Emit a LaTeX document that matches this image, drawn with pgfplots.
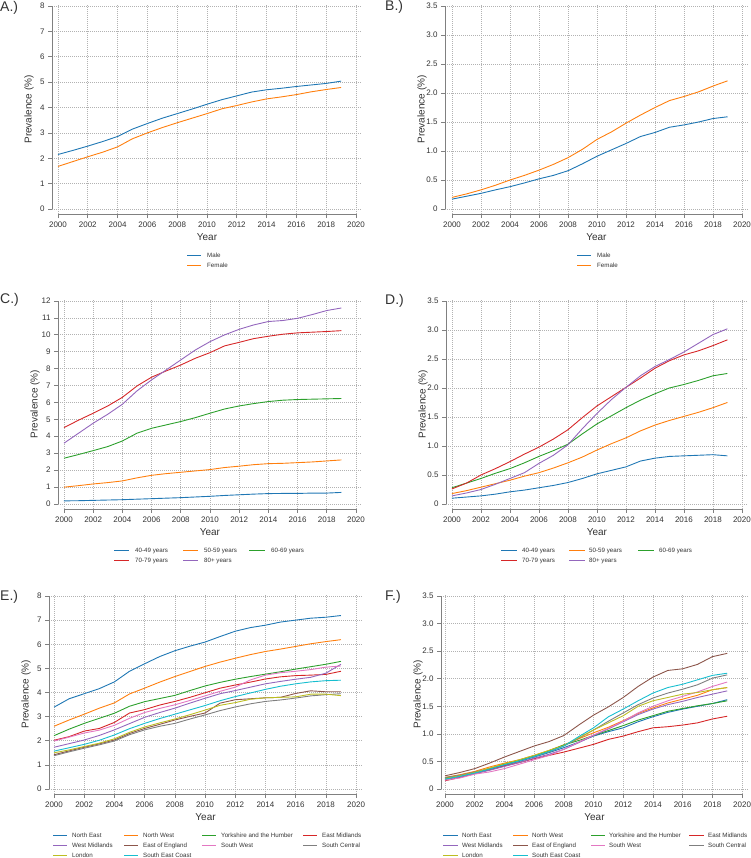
\documentclass[border=0pt]{standalone}
\usepackage{pgfplots}
\pgfplotsset{compat=1.18}
\usepackage{pgfplotstable}
\usepackage{fontspec}
\setmainfont{Liberation Sans}[Color=333333]
\definecolor{c1}{HTML}{1F77B4}
\definecolor{c2}{HTML}{FF7F0E}
\definecolor{c3}{HTML}{2CA02C}
\definecolor{c4}{HTML}{D62728}
\definecolor{c5}{HTML}{9467BD}
\definecolor{c6}{HTML}{8C564B}
\definecolor{c7}{HTML}{E377C2}
\definecolor{c8}{HTML}{7F7F7F}
\definecolor{c9}{HTML}{BCBD22}
\definecolor{c10}{HTML}{17BECF}

\pgfplotstableread{
year male female
2000 2.15 1.68
2001 2.31 1.87
2002 2.48 2.06
2003 2.66 2.24
2004 2.86 2.45
2005 3.15 2.77
2006 3.37 3.00
2007 3.58 3.21
2008 3.76 3.40
2009 3.94 3.58
2010 4.13 3.76
2011 4.31 3.95
2012 4.46 4.08
2013 4.61 4.22
2014 4.70 4.34
2015 4.76 4.42
2016 4.83 4.51
2017 4.89 4.62
2018 4.95 4.71
2019 5.04 4.79
}\tabA

\pgfplotstableread{
year male female
2000 0.17 0.20
2001 0.22 0.26
2002 0.27 0.33
2003 0.33 0.41
2004 0.385 0.50
2005 0.45 0.58
2006 0.52 0.67
2007 0.58 0.77
2008 0.66 0.885
2009 0.78 1.03
2010 0.91 1.20
2011 1.02 1.33
2012 1.13 1.48
2013 1.25 1.62
2014 1.32 1.75
2015 1.41 1.87
2016 1.45 1.94
2017 1.50 2.02
2018 1.56 2.12
2019 1.59 2.21
}\tabB

\pgfplotstableread{
year a40 a50 a60 a70 a80
2000 0.18 0.99 2.70 4.51 3.59
2001 0.19 1.08 2.92 4.95 4.18
2002 0.21 1.18 3.15 5.36 4.77
2003 0.23 1.26 3.39 5.79 5.30
2004 0.25 1.36 3.72 6.30 5.89
2005 0.28 1.54 4.18 6.97 6.68
2006 0.31 1.69 4.47 7.49 7.33
2007 0.34 1.79 4.67 7.86 7.92
2008 0.37 1.87 4.87 8.21 8.51
2009 0.41 1.95 5.10 8.61 9.10
2010 0.45 2.03 5.36 8.94 9.59
2011 0.50 2.15 5.61 9.34 9.99
2012 0.54 2.23 5.79 9.55 10.32
2013 0.58 2.32 5.93 9.77 10.58
2014 0.61 2.38 6.05 9.91 10.78
2015 0.62 2.40 6.13 10.03 10.84
2016 0.62 2.44 6.17 10.11 10.97
2017 0.64 2.48 6.19 10.15 11.19
2018 0.64 2.54 6.21 10.19 11.43
2019 0.68 2.60 6.23 10.24 11.58
}\tabC

\pgfplotstableread{
year a40 a50 a60 a70 a80
2000 0.10 0.18 0.28 0.26 0.14
2001 0.12 0.23 0.36 0.36 0.19
2002 0.14 0.29 0.44 0.50 0.25
2003 0.17 0.35 0.53 0.61 0.34
2004 0.21 0.41 0.61 0.73 0.44
2005 0.24 0.48 0.71 0.86 0.54
2006 0.28 0.54 0.82 0.98 0.70
2007 0.32 0.62 0.92 1.12 0.84
2008 0.37 0.71 1.03 1.28 1.02
2009 0.44 0.81 1.21 1.49 1.30
2010 0.52 0.93 1.38 1.69 1.56
2011 0.58 1.04 1.52 1.85 1.80
2012 0.64 1.14 1.66 2.01 2.01
2013 0.74 1.26 1.79 2.17 2.21
2014 0.79 1.36 1.90 2.34 2.37
2015 0.82 1.44 2.00 2.47 2.49
2016 0.83 1.51 2.06 2.57 2.62
2017 0.84 1.58 2.13 2.64 2.77
2018 0.85 1.66 2.21 2.73 2.92
2019 0.83 1.75 2.25 2.83 3.02
}\tabD

\pgfplotstableread{
year NE NW YH EM WM EE SW SC LO SE
2000 3.39 2.60 2.21 2.02 1.73 1.42 1.99 1.38 1.50 1.57
2001 3.74 2.86 2.48 2.17 1.88 1.58 2.15 1.54 1.62 1.71
2002 3.95 3.10 2.72 2.40 2.03 1.73 2.32 1.69 1.76 1.85
2003 4.16 3.35 2.93 2.51 2.22 1.87 2.44 1.83 1.90 2.02
2004 4.44 3.57 3.14 2.76 2.45 2.03 2.64 1.99 2.08 2.24
2005 4.88 3.94 3.43 3.15 2.71 2.30 2.93 2.25 2.35 2.50
2006 5.19 4.18 3.62 3.29 2.97 2.51 3.17 2.45 2.57 2.72
2007 5.49 4.43 3.75 3.48 3.17 2.68 3.34 2.60 2.74 2.92
2008 5.73 4.66 3.88 3.63 3.35 2.86 3.49 2.72 2.90 3.10
2009 5.92 4.87 4.08 3.80 3.56 3.01 3.67 2.90 3.08 3.28
2010 6.09 5.08 4.27 3.99 3.76 3.15 3.86 3.07 3.27 3.46
2011 6.32 5.26 4.42 4.18 3.95 3.56 4.05 3.25 3.47 3.66
2012 6.54 5.42 4.55 4.31 4.08 3.70 4.22 3.40 3.58 3.83
2013 6.69 5.57 4.66 4.43 4.22 3.74 4.52 3.53 3.72 3.98
2014 6.79 5.70 4.76 4.56 4.36 3.78 4.72 3.63 3.78 4.13
2015 6.92 5.80 4.86 4.65 4.46 3.80 4.82 3.69 3.80 4.26
2016 7.00 5.91 4.97 4.70 4.55 3.96 4.88 3.77 3.82 4.36
2017 7.08 6.02 5.07 4.72 4.63 4.07 4.95 3.86 3.93 4.44
2018 7.12 6.11 5.17 4.75 4.80 4.03 5.05 3.91 3.93 4.49
2019 7.19 6.19 5.29 4.88 5.17 4.03 5.10 3.95 3.87 4.51
}\tabE

\pgfplotstableread{
year NE NW YH EM WM EE SW SC LO SE
2000 0.19 0.21 0.20 0.15 0.17 0.24 0.16 0.21 0.19 0.18
2001 0.23 0.26 0.24 0.21 0.22 0.30 0.20 0.25 0.24 0.23
2002 0.28 0.32 0.30 0.28 0.28 0.37 0.27 0.31 0.30 0.29
2003 0.35 0.40 0.37 0.35 0.34 0.47 0.31 0.37 0.38 0.36
2004 0.43 0.47 0.45 0.42 0.41 0.58 0.37 0.44 0.46 0.44
2005 0.50 0.53 0.52 0.48 0.48 0.68 0.45 0.51 0.53 0.51
2006 0.58 0.61 0.60 0.55 0.56 0.78 0.53 0.59 0.61 0.59
2007 0.66 0.70 0.69 0.61 0.63 0.86 0.61 0.67 0.70 0.68
2008 0.75 0.80 0.80 0.67 0.72 0.97 0.72 0.78 0.79 0.78
2009 0.85 0.91 0.88 0.74 0.84 1.16 0.85 0.92 0.93 0.95
2010 0.96 1.02 0.97 0.81 0.97 1.34 0.98 1.07 1.07 1.11
2011 1.04 1.12 1.06 0.90 1.09 1.49 1.10 1.23 1.20 1.31
2012 1.11 1.24 1.15 0.96 1.22 1.66 1.23 1.38 1.33 1.45
2013 1.22 1.37 1.25 1.04 1.35 1.86 1.38 1.53 1.50 1.60
2014 1.31 1.47 1.33 1.11 1.45 2.03 1.50 1.65 1.60 1.74
2015 1.39 1.56 1.41 1.13 1.53 2.15 1.60 1.74 1.66 1.84
2016 1.45 1.63 1.46 1.16 1.59 2.18 1.68 1.81 1.72 1.90
2017 1.50 1.70 1.51 1.20 1.66 2.26 1.76 1.89 1.75 1.98
2018 1.55 1.80 1.55 1.27 1.72 2.40 1.86 2.01 1.80 2.06
2019 1.62 1.84 1.60 1.32 1.78 2.46 1.94 2.07 1.84 2.10
}\tabF

\pgfplotsset{
  panel/.style={
    scale only axis, anchor=south west,
    axis lines=left, axis line style={-, draw=black!50, line width=0.7pt},
    tick align=outside, major tick length=4pt,
    tick style={draw=black!50, line width=0.6pt},
    grid=major, major grid style={dash pattern=on 0.6pt off 1.4pt, line width=0.6pt, draw=black!30},
    xtick={2000,2002,...,2020}, xmax=2020.4,
    tick label style={font=\fontsize{8}{9}\selectfont},
    /pgf/number format/assume math mode=true,
    xticklabel style={/pgf/number format/1000 sep={}},
    label style={font=\fontsize{7.8}{9}\selectfont},
    xlabel={Year}, ylabel={Prevalence (\%)},
    every axis x label/.style={at={(axis description cs:0.5,0)}, anchor=center, yshift=-23pt},
    every axis y label/.style={at={(axis description cs:0,0.5)}, anchor=center, xshift=-23pt, rotate=90},
    every axis plot/.append style={line width=0.9pt},
  },
  fracy/.style={ytick={0,0.5,...,3.5}, yticklabels={0,0.5,1.0,1.5,2.0,2.5,3.0,3.5}, ymax=3.52},
}

% legend key line: colour, start x, end x, y (pt)
\newcommand{\lline}[4]{\draw[draw=#1, line width=1pt] (#2pt,#4pt) -- (#3pt,#4pt);}
% legend key text: x, y (pt), text
\newcommand{\ltext}[3]{\node[anchor=base west, inner sep=0pt, font=\fontsize{6.2}{7}\selectfont] at (#1pt,#2pt-2.2pt) {#3};}

\begin{document}
\begin{tikzpicture}
\useasboundingbox (0,0) rectangle (751pt,858pt);
\clip (0,0) rectangle (751pt,858pt);

% legend key lines
\lline{c1}{187}{201}{602.5}
\lline{c2}{187}{201}{592.5}
\lline{c1}{577}{591}{602.5}
\lline{c2}{577}{591}{592.5}
\lline{c1}{114}{129}{307.5}
\lline{c2}{183}{198}{307.5}
\lline{c3}{249}{265}{307.5}
\lline{c4}{114}{129}{297.5}
\lline{c5}{183}{198}{297.5}
\lline{c1}{501}{517}{307.5}
\lline{c2}{569}{585}{307.5}
\lline{c3}{638}{654}{307.5}
\lline{c4}{501}{517}{297.5}
\lline{c5}{569}{585}{297.5}
\lline{c1}{53}{67}{22.5}
\lline{c2}{124}{138}{22.5}
\lline{c3}{202}{216}{22.5}
\lline{c4}{303}{317}{22.5}
\lline{c5}{53}{67}{12.5}
\lline{c6}{124}{138}{12.5}
\lline{c7}{202}{216}{12.5}
\lline{c8}{303}{317}{12.5}
\lline{c9}{53}{67}{2.5}
\lline{c10}{124}{138}{2.5}
\lline{c1}{443}{458}{22.5}
\lline{c2}{513}{528}{22.5}
\lline{c3}{591}{605}{22.5}
\lline{c4}{689}{704}{22.5}
\lline{c5}{443}{458}{12.5}
\lline{c6}{513}{528}{12.5}
\lline{c7}{591}{605}{12.5}
\lline{c8}{689}{704}{12.5}
\lline{c9}{443}{458}{2.5}
\lline{c10}{513}{528}{2.5}

% Panel A
\begin{axis}[panel, at={(52.04pt,643.9pt)}, width=309.9pt, height=209.3pt,
  xmin=1999.6, ymin=-0.2, ymax=8.05, ytick={0,1,...,8},
  x axis line style={shorten <=6pt, shorten >=6pt},
  y axis line style={shorten <=5pt, shorten >=1.3pt}]
\addplot[draw=c1] table[x=year,y=male]{\tabA};
\addplot[draw=c2] table[x=year,y=female]{\tabA};
\end{axis}

% Panel B
\begin{axis}[panel, fracy, at={(445pt,644pt)}, width=302.8pt, height=209.1pt,
  xmin=1999.517, ymin=-0.086,
  x axis line style={shorten <=7pt, shorten >=5.8pt},
  y axis line style={shorten <=5pt, shorten >=1.2pt}]
\addplot[draw=c1] table[x=year,y=male]{\tabB};
\addplot[draw=c2] table[x=year,y=female]{\tabB};
\end{axis}

% Panel C
\begin{axis}[panel, at={(58pt,349pt)}, width=303.8pt, height=209.8pt,
  xmin=1999.59, ymin=-0.3, ymax=12.1, ytick={0,1,...,12},
  x axis line style={shorten <=6pt, shorten >=5.8pt},
  y axis line style={shorten <=5pt, shorten >=1.7pt}]
\addplot[draw=c1] table[x=year,y=a40]{\tabC};
\addplot[draw=c2] table[x=year,y=a50]{\tabC};
\addplot[draw=c3] table[x=year,y=a60]{\tabC};
\addplot[draw=c4] table[x=year,y=a70]{\tabC};
\addplot[draw=c5] table[x=year,y=a80]{\tabC};
\end{axis}

% Panel D
\begin{axis}[panel, fracy, at={(446pt,349pt)}, width=301.7pt, height=209.2pt,
  xmin=1999.59, ymin=-0.086,
  x axis line style={shorten <=6pt, shorten >=5.8pt},
  y axis line style={shorten <=5pt, shorten >=1.2pt}]
\addplot[draw=c1] table[x=year,y=a40]{\tabD};
\addplot[draw=c2] table[x=year,y=a50]{\tabD};
\addplot[draw=c3] table[x=year,y=a60]{\tabD};
\addplot[draw=c4] table[x=year,y=a70]{\tabD};
\addplot[draw=c5] table[x=year,y=a80]{\tabD};
\end{axis}

% Panel E
\begin{axis}[panel, at={(49pt,64pt)}, width=313.1pt, height=199.2pt,
  xmin=1999.67, ymin=-0.207, ymax=8.05, ytick={0,1,...,8},
  x axis line style={shorten <=5pt, shorten >=6pt},
  y axis line style={shorten <=5pt, shorten >=1.2pt}]
\addplot[draw=c1] table[x=year,y=NE]{\tabE};
\addplot[draw=c2] table[x=year,y=NW]{\tabE};
\addplot[draw=c3] table[x=year,y=YH]{\tabE};
\addplot[draw=c4] table[x=year,y=EM]{\tabE};
\addplot[draw=c5] table[x=year,y=WM]{\tabE};
\addplot[draw=c6] table[x=year,y=EE]{\tabE};
\addplot[draw=c7] table[x=year,y=SW]{\tabE};
\addplot[draw=c8] table[x=year,y=SC]{\tabE};
\addplot[draw=c9] table[x=year,y=LO]{\tabE};
\addplot[draw=c10] table[x=year,y=SE]{\tabE};
\end{axis}

% Panel F
\begin{axis}[panel, fracy, at={(441pt,64pt)}, width=307pt, height=199.1pt,
  xmin=1999.73, ymin=-0.09,
  x axis line style={shorten <=4pt, shorten >=5.9pt},
  y axis line style={shorten <=5pt, shorten >=1.1pt}]
\addplot[draw=c1] table[x=year,y=NE]{\tabF};
\addplot[draw=c2] table[x=year,y=NW]{\tabF};
\addplot[draw=c3] table[x=year,y=YH]{\tabF};
\addplot[draw=c4] table[x=year,y=EM]{\tabF};
\addplot[draw=c5] table[x=year,y=WM]{\tabF};
\addplot[draw=c6] table[x=year,y=EE]{\tabF};
\addplot[draw=c7] table[x=year,y=SW]{\tabF};
\addplot[draw=c8] table[x=year,y=SC]{\tabF};
\addplot[draw=c9] table[x=year,y=LO]{\tabF};
\addplot[draw=c10] table[x=year,y=SE]{\tabF};
\end{axis}

% legend texts
\ltext{207}{602.5}{Male}
\ltext{207}{592.5}{Female}
\ltext{597}{602.5}{Male}
\ltext{597}{592.5}{Female}
\ltext{135}{307.5}{40-49 years}
\ltext{204}{307.5}{50-59 years}
\ltext{271}{307.5}{60-69 years}
\ltext{135}{297.5}{70-79 years}
\ltext{204}{297.5}{80+ years}
\ltext{522}{307.5}{40-49 years}
\ltext{589}{307.5}{50-59 years}
\ltext{659}{307.5}{60-69 years}
\ltext{522}{297.5}{70-79 years}
\ltext{589}{297.5}{80+ years}
\ltext{72}{22.5}{North East}
\ltext{143}{22.5}{North West}
\ltext{221}{22.5}{Yorkshire and the Humber}
\ltext{322}{22.5}{East Midlands}
\ltext{72}{12.5}{West Midlands}
\ltext{143}{12.5}{East of England}
\ltext{221}{12.5}{South West}
\ltext{322}{12.5}{South Central}
\ltext{72}{2.5}{London}
\ltext{143}{2.5}{South East Coast}
\ltext{462}{22.5}{North East}
\ltext{532}{22.5}{North West}
\ltext{609}{22.5}{Yorkshire and the Humber}
\ltext{708}{22.5}{East Midlands}
\ltext{462}{12.5}{West Midlands}
\ltext{532}{12.5}{East of England}
\ltext{609}{12.5}{South West}
\ltext{708}{12.5}{South Central}
\ltext{462}{2.5}{London}
\ltext{532}{2.5}{South East Coast}

\begin{scope}[every node/.style={anchor=west, inner sep=0pt, font=\fontsize{14}{16}\selectfont}]
\node at (0pt,850pt) {A.)};
\node at (385pt,851pt) {B.)};
\node at (0pt,558pt) {C.)};
\node at (385pt,557pt) {D.)};
\node at (0pt,261pt) {E.)};
\node at (385pt,261pt) {F.)};
\end{scope}
\end{tikzpicture}
\end{document}
